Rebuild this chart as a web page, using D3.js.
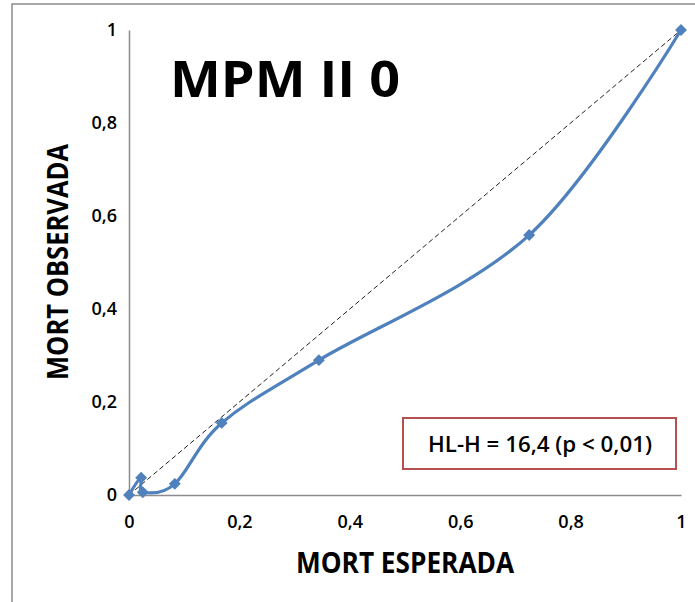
<!DOCTYPE html>
<html>
<head>
<meta charset="utf-8">
<script src="https://cdn.jsdelivr.net/npm/d3@7"></script>
<style>
  body { margin: 0; background: #fff; }
  svg text { font-family: "Open Sans", "Noto Sans", sans-serif; }
</style>
</head>
<body>
<div id="chart"></div>
<script>
// expected vs observed mortality, in data order
const esperada = [0, 0.022, 0.025, 0.083, 0.168, 0.344, 0.725, 1];
const observada = [0, 0.037, 0.006, 0.024, 0.155, 0.29, 0.559, 1];
const ticks = [0, 0.2, 0.4, 0.6, 0.8, 1];
const title = 'MPM II 0';
const stat = 'HL-H = 16,4 (p < 0,01)';

const w = 695;
const h = 602;
const fmt = d => String(d).replace('.', ',');

const svg = d3.select('#chart')
    .append('svg')
    .attr('width', w)
    .attr('height', h);

// outer chart frame
svg.append('rect')
    .attr('x', 12)
    .attr('y', 4)
    .attr('width', w + 20)
    .attr('height', h + 20)
    .attr('fill', 'none')
    .attr('stroke', '#8c8c8c')
    .attr('stroke-width', 1.5);

const xScale = d3.scaleLinear().domain([0, 1]).range([129, 681]);
const yScale = d3.scaleLinear().domain([0, 1]).range([495, 30]);

const styleAxis = g => {
    g.select('.domain').attr('stroke', '#8c8c8c').attr('stroke-width', 1.5);
    g.selectAll('text')
        .attr('font-size', 18)
        .attr('font-weight', 600)
        .attr('fill', '#000');
};

// axes
svg.append('g')
    .attr('transform', `translate(0, ${yScale(0)})`)
    .call(d3.axisBottom(xScale).tickValues(ticks).tickSize(0).tickPadding(20).tickFormat(fmt))
    .call(styleAxis);

svg.append('g')
    .attr('transform', `translate(${xScale(0)}, 0)`)
    .call(d3.axisLeft(yScale).tickValues(ticks).tickSize(0).tickPadding(12).tickFormat(fmt))
    .call(styleAxis);

// perfect calibration diagonal
svg.append('line')
    .attr('x1', xScale(0))
    .attr('y1', yScale(0))
    .attr('x2', xScale(1))
    .attr('y2', yScale(1))
    .attr('stroke', '#222')
    .attr('stroke-width', 1)
    .attr('stroke-dasharray', '5,3');

const pts = esperada.map((x, i) => [x, observada[i]]);

const line = d3.line()
    .x(d => xScale(d[0]))
    .y(d => yScale(d[1]))
    .curve(d3.curveCardinal.tension(0));

svg.append('path')
    .datum(pts)
    .attr('d', line)
    .attr('fill', 'none')
    .attr('stroke', '#4f81bd')
    .attr('stroke-width', 3.2);

svg.selectAll('.marker')
    .data(pts)
    .enter()
    .append('path')
    .attr('class', 'marker')
    .attr('transform', d => `translate(${xScale(d[0])}, ${yScale(d[1])})`)
    .attr('d', d3.symbol(d3.symbolDiamond2, 90))
    .attr('fill', '#4f81bd');

// titles
const label = (x, y, size, len, txt) => svg.append('text')
    .attr('x', x)
    .attr('y', y)
    .attr('text-anchor', 'middle')
    .attr('font-size', size)
    .attr('font-weight', 'bold')
    .attr('textLength', len)
    .attr('lengthAdjust', 'spacingAndGlyphs')
    .text(txt);

label(285, 97, 50, 230, title);
label(405, 573, 28, 218, 'MORT ESPERADA');
label(0, 0, 28, 236, 'MORT OBSERVADA')
    .attr('transform', 'translate(68, 262) rotate(-90)');

// Hosmer-Lemeshow box
svg.append('rect')
    .attr('x', 403)
    .attr('y', 418)
    .attr('width', 273)
    .attr('height', 51)
    .attr('fill', '#fff')
    .attr('stroke', '#b5504e')
    .attr('stroke-width', 2);

label(540, 452, 21, 224, stat).attr('font-weight', 600);
</script>
</body>
</html>
